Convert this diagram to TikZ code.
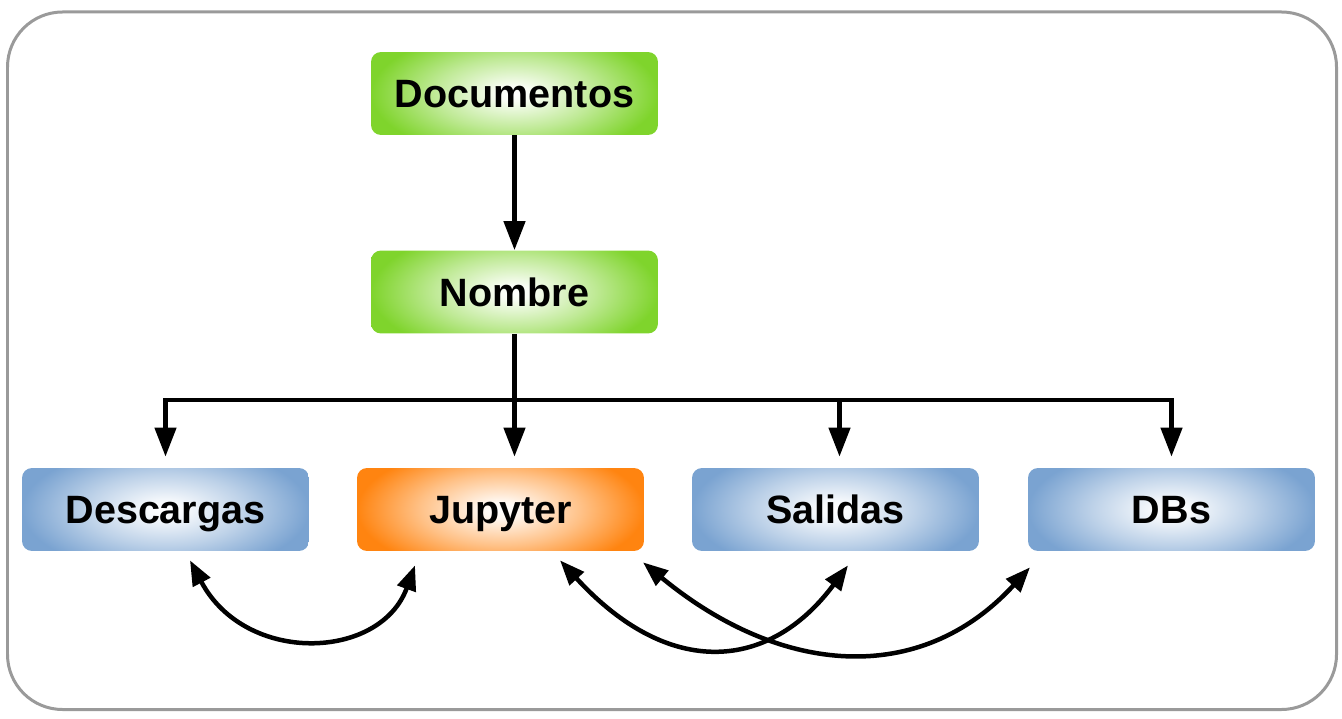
\documentclass[tikz,border=0pt]{standalone}
\usepackage{fontspec}
\setmainfont{Liberation Sans}
\usepackage{tikz}
\usetikzlibrary{arrows.meta,calc}
\definecolor{greenBox}{HTML}{7FD42C}
\definecolor{blueBox}{HTML}{7AA3D1}
\definecolor{orangeBox}{HTML}{FF8410}
\definecolor{frameGray}{HTML}{9A9A9A}
\colorlet{ocol}{greenBox}
\pgfdeclareradialshading[ocol]{boxglow}{\pgfpoint{0bp}{0bp}}{color(0bp)=(white); color(3bp)=(white!95!ocol); color(14bp)=(white!50!ocol); color(25bp)=(ocol); color(50bp)=(ocol)}
\newcommand{\boxFont}[0]{\fontsize{22.5}{27}\selectfont\bfseries}
\newcommand{\linkWidth}[0]{0.09cm}

\begin{document}
\begin{tikzpicture}[x=0.02cm, y=-0.02cm]
  \tikzset{box/.style={rectangle, rounded corners=0.2cm, minimum width=5.74cm, minimum height=1.66cm,
      font=\boxFont, text=black, text height=20.9pt, text depth=4.5pt,
      path picture={\colorlet{ocol}{#1}\shade[shading=boxglow]
        ([yshift=-0.45cm]path picture bounding box.south west) rectangle
        ([yshift=0.45cm]path picture bounding box.north east);}},
    link/.style={line width=\linkWidth, -{Triangle[length=0.58cm,width=0.42cm]}},
    both/.style={line width=\linkWidth, {Triangle[length=0.5cm,width=0.38cm]}-{Triangle[length=0.5cm,width=0.38cm]}}}
  \useasboundingbox (0,0) rectangle (1342,719);
  \draw[frameGray, line width=0.06cm, rounded corners=1.1cm] (7.5,12) rectangle (1336.5,709.5);
  % top column
  \node[box=greenBox](Documentos) at (514.5,93.5){Documentos};
  \node[box=greenBox](Nombre) at (514.5,292){Nombre};
  % bottom row
  \node[box=blueBox](Descargas) at (165.5,509.5){Descargas};
  \node[box=orangeBox](Jupyter) at (500.5,509.5){Jupyter};
  \node[box=blueBox](Salidas) at (835.5,509.5){Salidas};
  \node[box=blueBox](DBs) at (1171.5,509.5){DBs};
  \coordinate(bar) at (514.5,400);
  \draw[link] (Documentos) -- (Nombre);
  \draw[link, shorten >=0.22cm] (Nombre.south) -- (Nombre.south |- Jupyter.north);
  \draw[line width=\linkWidth, line cap=rect] (Descargas.north |- bar) -- (DBs.north |- bar);
  \draw[link, shorten >=0.22cm] (Descargas.north |- bar) -- (Descargas.north);
  \draw[link, shorten >=0.22cm] ([xshift=0.08cm]Salidas.north |- bar) -- ([xshift=0.08cm]Salidas.north);
  \draw[link, shorten >=0.22cm] (DBs.north |- bar) -- (DBs.north);
  % curved arrows below
  \draw[both] ($(Descargas.south)+(24.5,9)$) .. controls ($(Descargas.south)+(80,114)$) and ($(Jupyter.south)+(-120,109)$) .. ($(Jupyter.south)+(-85.5,14)$);
  \draw[both] ($(Jupyter.south)+(59.5,9)$) .. controls ($(Jupyter.south)+(169.5,129)$) and ($(Salidas.south)+(-65.5,119)$) .. ($(Salidas.south)+(12.5,14)$);
  \draw[both] ($(Jupyter.south)+(142.5,11)$) .. controls ($(Jupyter.south)+(279.5,124)$) and ($(DBs.south)+(-251.5,136)$) .. ($(DBs.south)+(-141.5,16)$);
\end{tikzpicture}
\end{document}
